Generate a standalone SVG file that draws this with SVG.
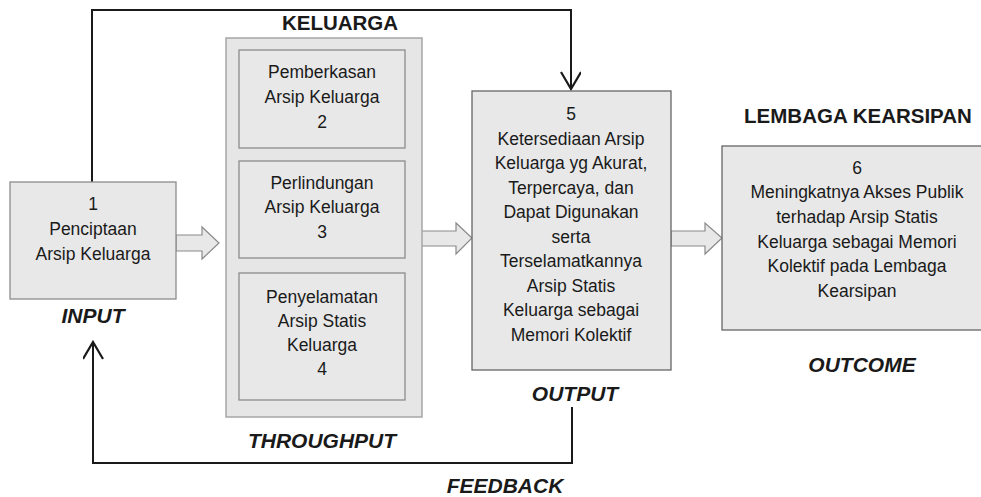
<svg xmlns="http://www.w3.org/2000/svg" width="981" height="497" viewBox="0 0 981 497">
<style>
.t{font-family:"Liberation Sans",Arial,sans-serif;font-size:17.5px;fill:#1a1a1a;text-anchor:middle}
.h{font-family:"Liberation Sans",Arial,sans-serif;font-size:20.5px;font-weight:bold;fill:#1a1a1a;text-anchor:middle}
.l{font-family:"Liberation Sans",Arial,sans-serif;font-size:21px;font-weight:bold;font-style:italic;fill:#1a1a1a;text-anchor:middle}
.box{fill:#e8e8e8;stroke:#8c8c8c;stroke-width:1.3}
.box2{fill:#e8e8e8;stroke:#666;stroke-width:1.3}
.cont{fill:#e6e6e6;stroke:#a6a6a6;stroke-width:1.5}
.blk{fill:#e8e8e8;stroke:#8a8a8a;stroke-width:1.2}
.ln{fill:none;stroke:#1a1a1a;stroke-width:2}
</style>
<defs>
<marker id="open" markerWidth="20" markerHeight="24" refX="17" refY="10" orient="auto" markerUnits="userSpaceOnUse" viewBox="0 0 20 24">
<path d="M1,0 L18,10 L1,20" fill="none" stroke="#1a1a1a" stroke-width="2.2"/>
</marker>
</defs>

<text class="h" x="340" y="30">KELUARGA</text>
<text class="h" x="858" y="123">LEMBAGA KEARSIPAN</text>
<text class="l" x="93" y="323">INPUT</text>
<text class="l" x="322" y="448">THROUGHPUT</text>
<text class="l" x="575" y="401">OUTPUT</text>
<text class="l" x="862" y="372">OUTCOME</text>
<text class="l" x="505" y="493">FEEDBACK</text>

<g id="connectors">
<path class="ln" d="M92,182 V10 H571 V88" marker-end="url(#open)"/>
<path class="ln" d="M572,407 V463 H93 V343" marker-end="url(#open)"/>
<path class="blk" d="M176,235 H202 V227 L219,243 L202,259 V251 H176 z"/>
<path class="blk" d="M421,231 H456 V223 L472,238 L456,254 V246 H421 z"/>
<path class="blk" d="M671,231 H705 V223 L722,238 L705,254 V246 H671 z"/>
</g>

<g id="node1">
<rect class="box" x="10" y="182" width="166" height="117"/>
<text class="t" x="93" y="210">1</text>
<text class="t" x="93" y="235">Penciptaan</text>
<text class="t" x="93" y="260">Arsip Keluarga</text>
</g>

<g id="throughput">
<rect class="cont" x="226" y="38" width="196" height="379"/>
</g>

<g id="node2">
<rect class="box" x="239" y="50" width="166" height="98"/>
<text class="t" x="322" y="78">Pemberkasan</text>
<text class="t" x="322" y="103">Arsip Keluarga</text>
<text class="t" x="322" y="128">2</text>
</g>

<g id="node3">
<rect class="box" x="239" y="161" width="166" height="97"/>
<text class="t" x="322" y="189">Perlindungan</text>
<text class="t" x="322" y="213">Arsip Keluarga</text>
<text class="t" x="322" y="238">3</text>
</g>

<g id="node4">
<rect class="box" x="239" y="273" width="166" height="127"/>
<text class="t" x="322" y="303">Penyelamatan</text>
<text class="t" x="322" y="327">Arsip Statis</text>
<text class="t" x="322" y="351">Keluarga</text>
<text class="t" x="322" y="375">4</text>
</g>

<g id="node5">
<rect class="box2" x="472" y="91" width="199" height="279"/>
<text class="t" x="571" y="120">5</text>
<text class="t" x="571" y="144.5">Ketersediaan Arsip</text>
<text class="t" x="571" y="169">Keluarga yg Akurat,</text>
<text class="t" x="571" y="193.5">Terpercaya, dan</text>
<text class="t" x="571" y="218">Dapat Digunakan</text>
<text class="t" x="571" y="242.5">serta</text>
<text class="t" x="571" y="267">Terselamatkannya</text>
<text class="t" x="571" y="291.5">Arsip Statis</text>
<text class="t" x="571" y="316">Keluarga sebagai</text>
<text class="t" x="571" y="341">Memori Kolektif</text>
</g>

<g id="node6">
<rect class="box2" x="722" y="146" width="262" height="184"/>
<text class="t" x="857" y="174">6</text>
<text class="t" x="857" y="198">Meningkatnya Akses Publik</text>
<text class="t" x="857" y="223">terhadap Arsip Statis</text>
<text class="t" x="857" y="248">Keluarga sebagai Memori</text>
<text class="t" x="857" y="272">Kolektif pada Lembaga</text>
<text class="t" x="857" y="297">Kearsipan</text>
</g>
</svg>
